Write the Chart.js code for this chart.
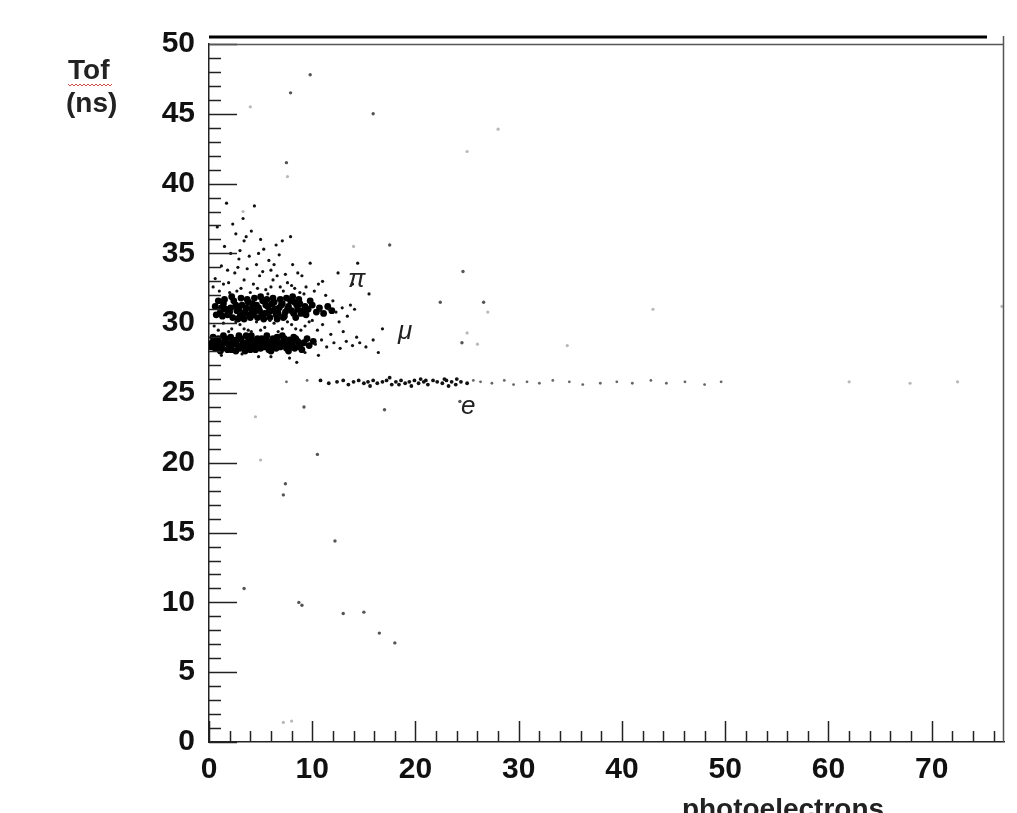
<!DOCTYPE html>
<html>
<head>
<meta charset="utf-8">
<script src="https://cdn.jsdelivr.net/npm/chart.js@4.4.1/dist/chart.umd.min.js"></script>
<style>
  body { margin: 0; background: #fff; }
  #wrap { width: 1017px; height: 813px; position: relative; }
</style>
</head>
<body>
<div id="wrap"><canvas id="miGraficoTof"></canvas></div>
<script>
// pion band (Tof ~31 ns), dense part
const pionPts = [
  [0.6,31.2],[1.1,30.8],[1.4,31.4],[1.8,30.6],[2.1,31.1],[2.4,31.6],[2.7,30.9],[3.0,30.5],[3.2,31.3],[3.5,30.8],
  [3.8,31.5],[4.1,31.0],[4.3,30.6],[4.6,31.3],[4.9,30.9],[5.2,31.6],[5.4,30.7],[5.7,31.2],[6.0,30.9],[6.3,31.5],
  [6.5,30.6],[6.8,31.1],[7.1,31.4],[7.4,30.8],[7.7,31.2],[8.0,30.9],[8.3,31.5],[8.6,31.0],[8.9,30.7],[9.3,31.2],
  [0.9,31.6],[1.3,30.5],[1.6,31.0],[2.0,30.8],[2.3,30.4],[2.6,31.3],[2.9,31.0],[3.3,30.7],[3.6,31.1],[3.9,30.6],
  [4.2,31.4],[4.5,30.9],[4.8,31.1],[5.1,30.5],[5.5,31.3],[5.8,30.8],[6.1,31.4],[6.4,31.0],[6.7,30.7],[7.0,31.3],
  [7.3,30.5],[7.6,31.0],[7.9,31.6],[8.2,30.7],[8.5,31.3],[8.8,31.4],[9.1,30.9],[9.6,31.0],[10.0,31.3],[10.4,30.8],
  [0.7,30.6],[1.2,31.1],[1.5,31.7],[2.2,31.9],[2.8,30.3],[3.1,31.8],[3.4,30.3],[3.7,31.7],[4.0,30.4],[4.4,31.8],
  [4.7,30.4],[5.0,31.9],[5.3,30.3],[5.6,31.7],[5.9,30.4],[6.2,31.8],[6.6,30.3],[6.9,31.7],[7.2,30.4],[7.5,31.8],
  [8.1,31.9],[8.4,30.4],[8.7,31.7],[9.4,30.6],[9.8,31.6],[10.7,31.1],[11.1,30.7],[11.5,31.2],[11.9,30.9]
];
// muon band (Tof ~28.6 ns), dense part
const muonPts = [
  [0.3,28.6],[0.6,28.2],[0.9,28.9],[1.2,28.4],[1.5,28.7],[1.8,28.1],[2.1,29.0],[2.4,28.5],[2.7,28.8],[3.0,28.2],
  [3.3,28.6],[3.6,29.1],[3.9,28.4],[4.2,28.8],[4.5,28.1],[4.8,28.5],[5.1,28.9],[5.4,28.3],[5.7,28.7],[6.0,28.0],
  [6.3,28.6],[6.6,29.0],[6.9,28.3],[7.2,28.7],[7.5,28.2],[7.8,28.8],[8.1,28.4],[8.4,28.9],[8.7,28.5],[9.0,28.1],
  [0.4,29.0],[0.8,28.4],[1.1,28.0],[1.4,29.1],[1.7,28.6],[2.0,28.3],[2.3,28.8],[2.6,28.0],[2.9,29.1],[3.2,28.4],
  [3.5,28.0],[3.8,28.7],[4.1,29.1],[4.4,28.3],[4.7,28.9],[5.0,28.2],[5.3,28.6],[5.6,29.1],[5.9,28.4],[6.2,28.9],
  [6.5,28.2],[6.8,28.6],[7.1,29.1],[7.4,28.5],[7.7,28.0],[8.0,28.6],[8.3,28.2],[8.6,28.7],[9.2,28.6],[9.5,28.9],
  [0.2,28.3],[0.5,28.8],[1.0,28.6],[1.3,28.2],[1.6,28.9],[1.9,28.5],[2.2,28.1],[2.5,28.7],[2.8,28.4],[3.1,28.9],
  [3.4,28.3],[3.7,28.5],[4.0,28.1],[4.3,28.6],[4.6,28.7],[4.9,28.3],[5.2,28.4],[5.5,28.7],[5.8,28.1],[6.1,28.4],
  [6.4,28.8],[6.7,28.4],[7.0,28.5],[7.3,28.9],[7.6,28.4],[7.9,28.3],[8.2,29.0],[8.8,28.3],[9.7,28.4],[10.1,28.7]
];
// sparse points around the two bands
const haloPts = [
  [0.8,36.9],[1.5,35.5],[2.3,37.1],[2.9,34.6],[3.4,35.9],[4.1,36.6],[4.6,34.2],[5.3,35.3],[6.0,33.8],[6.8,34.9],
  [7.4,33.5],[8.1,34.2],[9.0,33.4],[0.6,33.2],[1.2,34.1],[1.9,32.9],[2.5,33.6],[3.1,32.5],[3.7,33.9],[4.3,32.8],
  [4.9,33.4],[5.5,32.4],[6.2,33.1],[6.9,32.6],[7.6,32.9],[8.3,32.5],[9.4,32.6],[1.0,32.3],[2.0,32.2],[2.8,34.0],
  [3.9,34.8],[5.0,36.0],[5.8,34.5],[6.5,35.6],[7.9,36.2],[3.3,37.5],[4.4,38.4],[1.7,38.6],[5.7,32.1],[8.8,32.2],
  [10.2,32.3],[9.8,34.3],[11.3,32.0],[2.1,35.0],[3.6,36.2],
  [0.4,32.6],[1.4,32.8],[2.7,32.3],[3.4,33.1],[4.0,32.2],[4.7,32.5],[5.2,33.7],[6.0,32.6],[6.6,33.4],[7.2,32.3],
  [8.0,32.7],[8.6,33.6],[9.2,32.1],[10.6,32.8],[1.8,33.8],[3.0,35.2],[4.8,35.0],[6.3,34.2],[7.1,35.9],[2.6,36.4],
  [0.5,29.8],[1.4,30.0],[2.2,29.6],[3.0,29.9],[3.8,29.5],[4.6,30.1],[5.4,29.7],[6.3,30.0],[7.1,29.6],[8.0,29.9],
  [8.9,29.5],[9.7,30.1],[1.9,29.4],[4.1,29.4],[6.7,29.4],[10.5,29.5],[0.9,29.5],[2.6,30.1],[3.4,29.6],[5.0,29.5],
  [5.9,30.2],[7.6,30.1],[8.4,29.6],[9.3,29.8],
  [10.8,30.9],[11.6,31.0],[12.3,30.8],[12.9,31.1],[13.4,30.5],[14.1,31.0],[12.0,31.6],[13.7,31.3],[10.3,28.5],[10.9,28.8],
  [11.4,28.3],[12.1,28.6],[12.7,28.2],[13.3,28.7],[13.9,28.4],[14.6,28.6],[15.2,28.3],[15.9,28.8],[11.8,29.2],[13.0,29.4],
  [14.3,29.0],[16.4,27.9],[10.6,27.7],[9.3,27.9],[6.0,27.6],[3.2,27.8],[7.8,27.5],[8.5,27.2],[15.5,32.1],[13.9,32.8],
  [16.8,29.6],[11.0,33.0],[12.5,33.6],[14.4,34.3],[1.2,27.7],[4.8,27.6],[10.0,30.2],[11.0,29.9],[12.6,30.1]
];
// electron line (Tof ~25.8 ns): dense part, then the sparse tail
const electronPts = [
  [10.8,25.9],[11.6,25.7],[12.4,25.8],[13.0,25.9],[13.5,25.6],[14.0,25.8],[14.5,25.9],[15.0,25.7],[15.4,25.8],[15.9,25.9],
  [16.3,25.7],[16.8,25.8],[17.2,25.9],[17.7,25.6],[18.1,25.8],[18.6,25.9],[19.0,25.7],[19.4,25.8],[19.9,25.9],[20.3,25.7],
  [20.8,25.8],[21.2,25.6],[21.7,25.9],[22.1,25.8],[22.6,25.7],[23.0,25.9],[23.5,25.8],[23.9,25.6],[24.4,25.8],[25.0,25.7],
  [17.5,26.1],[20.5,26.0],[22.8,26.0],[15.6,25.5],[19.6,25.5],[23.2,25.5],[18.4,25.6],[21.0,25.9],[24.0,26.0]
];
const electronTail = [
  [25.6,25.9],[26.3,25.8],[27.4,25.7],[28.6,25.9],[29.5,25.6],[30.8,25.8],[32.0,25.7],[33.3,25.9],[34.9,25.8],[36.2,25.6],
  [37.9,25.7],[39.5,25.8],[41.0,25.7],[42.8,25.9],[44.3,25.7],[46.1,25.8],[48.0,25.6],[49.6,25.8],[9.5,25.9],[7.5,25.8]
];
// isolated hits, darker ones and faint ones
const strayDark = [
  [7.9,46.5],[9.8,47.8],[15.9,45.0],[7.5,41.5],[17.5,35.6],[24.6,33.7],[26.6,31.5],[22.4,31.5],
  [24.5,28.6],[10.5,20.6],[7.4,18.5],[7.2,17.7],[8.7,10.0],[9.0,9.8],[13.0,9.2],[15.0,9.3],[16.5,7.8],[18.0,7.1],
  [12.2,14.4],[3.4,11.0],[24.3,24.4],[9.2,24.0],[17.0,23.8]
];
const strayLight = [
  [7.6,40.5],[25.0,42.3],[28.0,43.9],[4.0,45.5],[43.0,31.0],[76.8,31.2],[26.0,28.5],[34.7,28.4],[25.0,29.3],
  [7.2,1.4],[8.0,1.5],[4.5,23.3],[62.0,25.8],[67.9,25.7],[72.5,25.8],[5.0,20.2],[3.3,38.0],[27.0,30.8],[14.0,35.5]
];
// particle labels, placed in data units
const particleLabels = ['\u03c0', '\u03bc', 'e'];
const particleX = [14.3, 19.0, 25.1];
const particleY = [33.1, 29.4, 24.0];

const FONT = "'Liberation Sans', Arial, sans-serif";

function toXY(arr) {
  return arr.map(p => ({ x: p[0], y: p[1] }));
}

// ROOT-like frame: inward ticks, right/top border, axis titles, particle labels
const rootFrame = {
  id: 'rootFrame',
  afterDraw(chart) {
    const ctx = chart.ctx;
    const a = chart.chartArea;
    const xs = chart.scales.x;
    const ys = chart.scales.y;
    ctx.save();
    ctx.strokeStyle = '#222';
    ctx.lineWidth = 1.5;
    ctx.beginPath();
    for (let v = 0; v <= 50; v++) {
      const py = Math.round(ys.getPixelForValue(v)) + 0.5;
      const len = v % 5 === 0 ? 28 : 12;
      ctx.moveTo(a.left, py);
      ctx.lineTo(a.left + len, py);
    }
    for (let v = 0; v <= 76; v += 2) {
      const px = Math.round(xs.getPixelForValue(v)) + 0.5;
      const len = v % 10 === 0 ? 21 : 11;
      ctx.moveTo(px, a.bottom);
      ctx.lineTo(px, a.bottom - len);
    }
    ctx.stroke();

    // frame: right side, thin top line and thick line above it
    ctx.strokeStyle = '#555';
    ctx.lineWidth = 1.5;
    ctx.beginPath();
    ctx.moveTo(a.left, a.top + 0.5);
    ctx.lineTo(a.right, a.top + 0.5);
    ctx.moveTo(a.right - 0.5, a.top - 8);
    ctx.lineTo(a.right - 0.5, a.bottom);
    ctx.stroke();
    ctx.strokeStyle = '#000';
    ctx.lineWidth = 3;
    ctx.beginPath();
    ctx.moveTo(a.left, a.top - 7);
    ctx.lineTo(a.right - 17, a.top - 7);
    ctx.stroke();

    // axis titles
    ctx.fillStyle = '#222';
    ctx.font = 'bold 28px ' + FONT;
    ctx.textAlign = 'left';
    ctx.textBaseline = 'alphabetic';
    ctx.fillText('Tof', 68, 79);
    ctx.fillText('(ns)', 66, 112);
    ctx.textAlign = 'center';
    ctx.fillText('photoelectrons', 783, 818);

    // red spell-check squiggle under "Tof"
    ctx.strokeStyle = '#d05050';
    ctx.lineWidth = 1;
    ctx.beginPath();
    for (let i = 0; i <= 22; i++) {
      const px = 68 + i * 2;
      const py = 84 + (i % 2 === 0 ? 0 : 2);
      if (i === 0) ctx.moveTo(px, py); else ctx.lineTo(px, py);
    }
    ctx.stroke();

    // particle labels
    ctx.fillStyle = '#222';
    ctx.font = 'italic 26px ' + FONT;
    ctx.textBaseline = 'middle';
    for (let i = 0; i < particleLabels.length; i++) {
      ctx.fillText(particleLabels[i], xs.getPixelForValue(particleX[i]), ys.getPixelForValue(particleY[i]));
    }
    ctx.restore();
  }
};

function makeSet(pts, color, radius) {
  return {
    data: toXY(pts),
    backgroundColor: color,
    borderWidth: 0,
    pointRadius: radius,
    pointHoverRadius: radius
  };
}

const grafico = new Chart(document.getElementById('miGraficoTof'), {
  type: 'scatter',
  data: {
    datasets: [
      makeSet(strayLight, '#b8b8b8', 1.6),
      makeSet(strayDark, '#555', 1.7),
      makeSet(haloPts, '#111', 1.6),
      makeSet(electronTail, '#666', 1.4),
      makeSet(electronPts, '#111', 1.9),
      makeSet(pionPts, '#000', 3.4),
      makeSet(muonPts, '#000', 3.4)
    ]
  },
  options: {
    responsive: true,
    maintainAspectRatio: false,
    animation: false,
    events: [],
    layout: { padding: { top: 44, right: 13, left: 0, bottom: 0 } },
    plugins: { legend: { display: false }, tooltip: { enabled: false } },
    scales: {
      x: {
        type: 'linear',
        min: 0,
        max: 77,
        afterFit: s => { s.height = 71; },
        grid: { display: false },
        border: { display: true, color: '#222', width: 1.5 },
        ticks: {
          stepSize: 10,
          autoSkip: false,
          maxRotation: 0,
          padding: 2,
          color: '#111',
          font: { family: FONT, size: 30, weight: 'bold' },
          callback: v => (v % 10 === 0 ? v : '')
        }
      },
      y: {
        type: 'linear',
        min: 0,
        max: 50,
        afterFit: s => { s.width = 209; },
        grid: { display: false },
        border: { display: true, color: '#222', width: 1.5 },
        ticks: {
          stepSize: 5,
          padding: 6,
          color: '#111',
          font: { family: FONT, size: 30, weight: 'bold' }
        }
      }
    }
  },
  plugins: [rootFrame]
});
</script>
</body>
</html>
